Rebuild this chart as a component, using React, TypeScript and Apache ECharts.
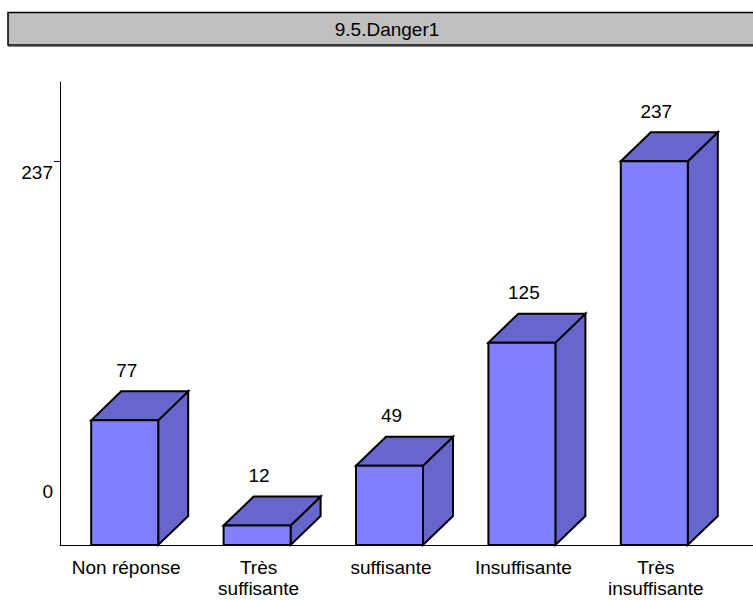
import React, { useEffect, useRef } from "react";
import * as echarts from "echarts";

const title = "9.5.Danger1";
const categories = ["Non réponse", "Très\nsuffisante", "suffisante", "Insuffisante", "Très\ninsuffisante"];
const values = [77, 12, 49, 125, 237];
const yLabelValues = [0, 237];
const yTickValues = [237];
const yMax = 286;

const FRONT = "#8080FF";
const SHADE = "#6666CC";
const FONT = "'Liberation Sans', Arial, sans-serif";

export default function App() {
  const ref = useRef<HTMLDivElement>(null);
  useEffect(() => {
    document.body.style.margin = "0";
    const chart = echarts.init(ref.current!, null, { renderer: "svg" });
    const depthX = 30;
    const depthY = 29;
    const barW = 67;
    chart.setOption({
      animation: false,
      backgroundColor: "#ffffff",
      textStyle: { fontFamily: FONT },
      grid: { left: 60, right: 31, top: 82, bottom: 55 },
      graphic: [
        {
          type: "rect",
          shape: { x: 8, y: 12.5, width: 770, height: 32.5 },
          style: { fill: "#C0C0C0", stroke: "#000", lineWidth: 1.5 },
        },
        {
          type: "line",
          shape: { x1: 8, y1: 46.5, x2: 753, y2: 46.5 },
          style: { stroke: "#808080", lineWidth: 1 },
        },
        {
          type: "text",
          x: 387,
          y: 29,
          style: {
            text: title,
            fill: "#000",
            font: `19px ${FONT}`,
            align: "center",
            verticalAlign: "middle",
          },
        },
        {
          type: "line",
          shape: { x1: 720, y1: 545.5, x2: 753, y2: 545.5 },
          style: { stroke: "#000", lineWidth: 1 },
        },
      ],
      xAxis: {
        type: "category",
        data: categories,
        axisLine: { lineStyle: { color: "#000", width: 1 } },
        axisTick: {
          length: 15,
          interval: (i: number) => i !== 0,
          lineStyle: { color: "#000", width: 1 },
        },
        axisLabel: {
          interval: 0,
          color: "#000",
          fontSize: 19,
          lineHeight: 21,
          margin: 12,
          fontFamily: FONT,
        },
        splitLine: { show: false },
      },
      yAxis: {
        type: "value",
        min: 0,
        max: yMax,
        axisLine: { show: true, lineStyle: { color: "#000", width: 1 } },
        axisTick: {
          show: true,
          length: 6,
          customValues: yTickValues,
          lineStyle: { color: "#000", width: 1 },
        },
        axisLabel: {
          customValues: yLabelValues,
          margin: 7,
          color: "#000",
          fontSize: 19,
          fontFamily: FONT,
          formatter: (v: number) => (v === 0 ? `{z|${v}}` : `{t|${v}}`),
          rich: {
            z: { padding: [0, 0, 108, 0], fontSize: 19, color: "#000", fontFamily: FONT },
            t: { padding: [22, 0, 0, 0], fontSize: 19, color: "#000", fontFamily: FONT },
          },
        },
        splitLine: { show: false },
      },
      series: [
        {
          type: "custom",
          data: values.map((v, i) => [i, v]),
          encode: { x: 0, y: 1 },
          clip: false,
          renderItem: (params: any, api: any) => {
            const idx = api.value(0);
            const v = api.value(1);
            const top = api.coord([idx, v]);
            const base = api.coord([idx, 0]);
            const x0 = top[0] - 35;
            const x1 = x0 + barW;
            const y0 = top[1];
            const y1 = base[1];
            const stroke = { stroke: "#000", lineWidth: 2, lineJoin: "miter" };
            return {
              type: "group",
              children: [
                {
                  type: "polygon",
                  shape: { points: [[x1, y0], [x1 + depthX, y0 - depthY], [x1 + depthX, y1 - depthY], [x1, y1]] },
                  style: { fill: SHADE, ...stroke },
                },
                {
                  type: "polygon",
                  shape: { points: [[x0, y0], [x0 + depthX, y0 - depthY], [x1 + depthX, y0 - depthY], [x1, y0]] },
                  style: { fill: SHADE, ...stroke },
                },
                {
                  type: "rect",
                  shape: { x: x0, y: y0, width: barW, height: y1 - y0 },
                  style: { fill: FRONT, ...stroke },
                },
                {
                  type: "text",
                  x: x0 + barW / 2 + 2,
                  y: y0 - 50,
                  style: {
                    text: String(v),
                    fill: "#000",
                    font: `19px ${FONT}`,
                    align: "center",
                    verticalAlign: "middle",
                  },
                },
              ],
            };
          },
        },
      ],
    });
    return () => chart.dispose();
  }, []);
  return <div ref={ref} style={{ width: 753, height: 600 }} />;
}
